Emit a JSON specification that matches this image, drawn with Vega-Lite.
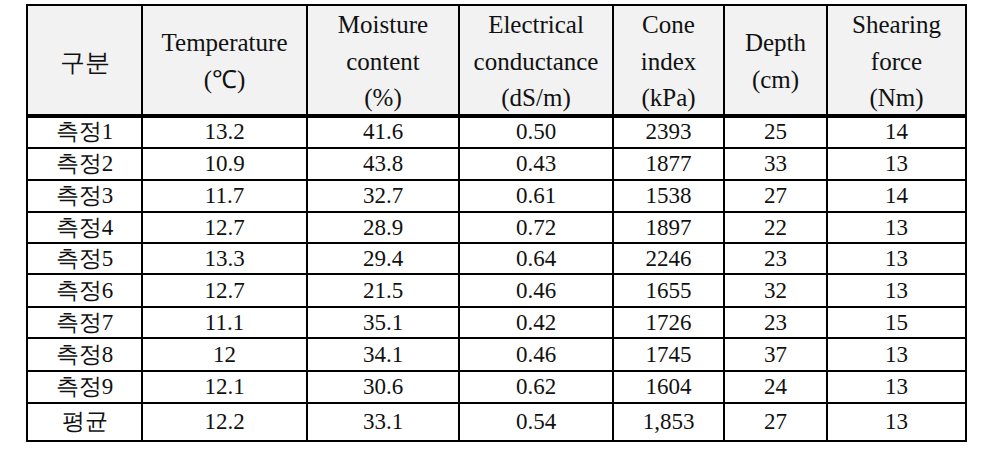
{
  "$schema": "https://vega.github.io/schema/vega-lite/v6.json",
  "width": 1005,
  "height": 460,
  "autosize": {"type": "none"},
  "padding": 0,
  "background": "white",
  "config": {"view": {"stroke": null}},
  "datasets": {
    "table": [
      {"item": "구분", "Temperature": "Temperature\n(℃)", "Moisture": "Moisture\ncontent\n(%)", "EC": "Electrical\nconductance\n(dS/m)", "Cone": "Cone\nindex\n(kPa)", "Depth": "Depth\n(cm)", "Shear": "Shearing\nforce\n(Nm)"},
      {"item": "측정1", "Temperature": "13.2", "Moisture": "41.6", "EC": "0.50", "Cone": "2393", "Depth": "25", "Shear": "14"},
      {"item": "측정2", "Temperature": "10.9", "Moisture": "43.8", "EC": "0.43", "Cone": "1877", "Depth": "33", "Shear": "13"},
      {"item": "측정3", "Temperature": "11.7", "Moisture": "32.7", "EC": "0.61", "Cone": "1538", "Depth": "27", "Shear": "14"},
      {"item": "측정4", "Temperature": "12.7", "Moisture": "28.9", "EC": "0.72", "Cone": "1897", "Depth": "22", "Shear": "13"},
      {"item": "측정5", "Temperature": "13.3", "Moisture": "29.4", "EC": "0.64", "Cone": "2246", "Depth": "23", "Shear": "13"},
      {"item": "측정6", "Temperature": "12.7", "Moisture": "21.5", "EC": "0.46", "Cone": "1655", "Depth": "32", "Shear": "13"},
      {"item": "측정7", "Temperature": "11.1", "Moisture": "35.1", "EC": "0.42", "Cone": "1726", "Depth": "23", "Shear": "15"},
      {"item": "측정8", "Temperature": "12", "Moisture": "34.1", "EC": "0.46", "Cone": "1745", "Depth": "37", "Shear": "13"},
      {"item": "측정9", "Temperature": "12.1", "Moisture": "30.6", "EC": "0.62", "Cone": "1604", "Depth": "24", "Shear": "13"},
      {"item": "평균", "Temperature": "12.2", "Moisture": "33.1", "EC": "0.54", "Cone": "1,853", "Depth": "27", "Shear": "13"}
    ],
    "cols": [
      {"col": "item", "x0": 0, "x1": 115, "xc": 57.5, "hy": 58},
      {"col": "Temperature", "x0": 115, "x1": 280, "xc": 197.5, "hy": 38},
      {"col": "Moisture", "x0": 280, "x1": 432, "xc": 356, "hy": 20},
      {"col": "EC", "x0": 432, "x1": 586, "xc": 509, "hy": 20},
      {"col": "Cone", "x0": 586, "x1": 697, "xc": 641.5, "hy": 20},
      {"col": "Depth", "x0": 697, "x1": 800, "xc": 748.5, "hy": 38},
      {"col": "Shear", "x0": 800, "x1": 939, "xc": 869.5, "hy": 20}
    ],
    "rows": [
      {"item": "구분", "y0": 0, "y1": 111, "yc": 56.5},
      {"item": "측정1", "y0": 111, "y1": 143, "yc": 127},
      {"item": "측정2", "y0": 143, "y1": 175, "yc": 159},
      {"item": "측정3", "y0": 175, "y1": 207, "yc": 191},
      {"item": "측정4", "y0": 207, "y1": 238, "yc": 222.5},
      {"item": "측정5", "y0": 238, "y1": 269, "yc": 253.5},
      {"item": "측정6", "y0": 269, "y1": 302, "yc": 285.5},
      {"item": "측정7", "y0": 302, "y1": 333, "yc": 317.5},
      {"item": "측정8", "y0": 333, "y1": 366, "yc": 349.5},
      {"item": "측정9", "y0": 366, "y1": 398, "yc": 382},
      {"item": "평균", "y0": 398, "y1": 436, "yc": 417}
    ]
  },
  "data": {"name": "table"},
  "transform": [
    {"fold": ["item", "Temperature", "Moisture", "EC", "Cone", "Depth", "Shear"], "as": ["col", "value"]},
    {"lookup": "col", "from": {"data": {"name": "cols"}, "key": "col", "fields": ["x0", "x1", "xc", "hy"]}},
    {"lookup": "item", "from": {"data": {"name": "rows"}, "key": "item", "fields": ["y0", "y1", "yc"]}}
  ],
  "encoding": {},
  "layer": [
    {
      "mark": {"type": "rect", "stroke": "black", "strokeWidth": 2},
      "encoding": {
        "x": {"field": "x0", "type": "quantitative", "scale": {"domain": [-27, 978], "nice": false, "zero": false}, "axis": null},
        "x2": {"field": "x1"},
        "y": {"field": "y0", "type": "quantitative", "scale": {"domain": [-5, 455], "nice": false, "zero": false, "reverse": true}, "axis": null},
        "y2": {"field": "y1"},
        "fill": {"condition": {"test": "datum.item === '구분'", "value": "#f2f2f2"}, "value": "white"}
      }
    },
    {
      "transform": [{"filter": "datum.item === '구분'"}],
      "mark": {"type": "rule", "stroke": "black", "strokeWidth": 4},
      "encoding": {
        "x": {"field": "x0", "type": "quantitative"},
        "x2": {"field": "x1"},
        "y": {"field": "y1", "type": "quantitative"}
      }
    },
    {
      "transform": [{"filter": "datum.item === '구분'"}],
      "mark": {"type": "text", "font": "Liberation Serif", "fontSize": 25, "lineBreak": "\n", "lineHeight": 36.5, "baseline": "middle", "align": "center", "color": "#111111"},
      "encoding": {
        "x": {"field": "xc", "type": "quantitative"},
        "y": {"field": "hy", "type": "quantitative"},
        "text": {"field": "value"}
      }
    },
    {
      "transform": [{"filter": "datum.item !== '구분'"}],
      "mark": {"type": "text", "font": "Liberation Serif", "fontSize": 23, "baseline": "middle", "align": "center", "color": "#111111"},
      "encoding": {
        "x": {"field": "xc", "type": "quantitative"},
        "y": {"field": "yc", "type": "quantitative"},
        "text": {"field": "value"}
      }
    }
  ]
}
